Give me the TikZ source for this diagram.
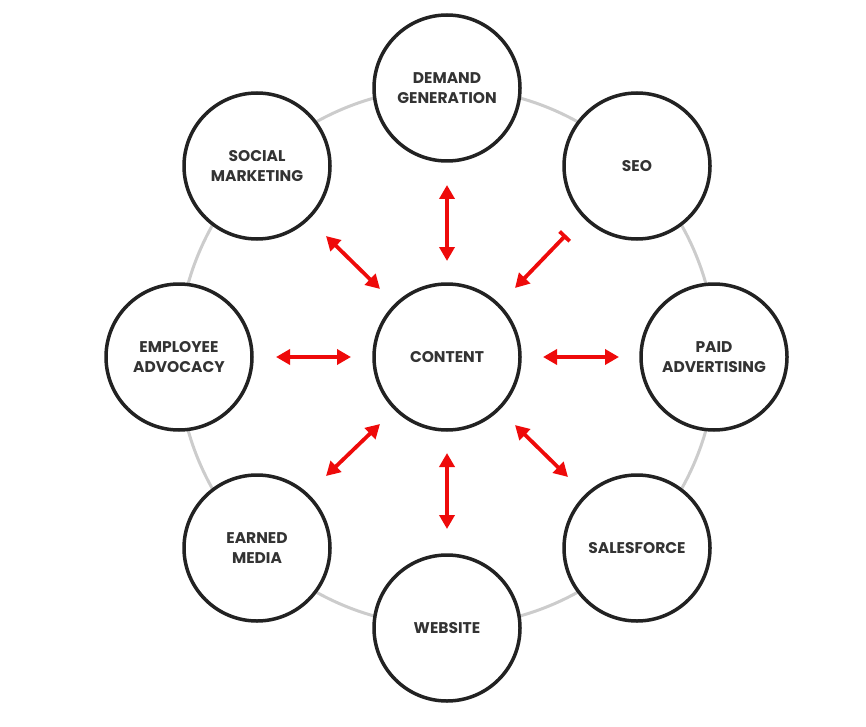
\documentclass[tikz,border=0pt]{standalone}
\usepackage{fontspec}
\setmainfont{Poppins}
\usetikzlibrary{arrows.meta}
\definecolor{ringgray}{HTML}{CCCCCC}
\definecolor{circdark}{HTML}{222222}
\definecolor{txtdark}{HTML}{333333}
\definecolor{arrred}{HTML}{EE0A0A}
\begin{document}
\begin{tikzpicture}[x=1pt,y=-1pt,
  bub/.style={circle,draw=circdark,line width=3.5pt,fill=white,minimum size=146pt,inner sep=0pt,
    align=center,font=\fontsize{15.5}{20.5}\selectfont\bfseries,text=txtdark},
  link/.style={arrred,line width=3.8pt,{Triangle[length=14pt,width=15pt]}-{Triangle[length=14pt,width=15pt]}},
  linkbar/.style={arrred,line width=3.8pt,{Bar[width=14pt]}-{Triangle[length=14pt,width=15pt]}}]
\useasboundingbox (0,0) rectangle (866,727);
\draw[ringgray,line width=3pt] (447,357) circle (269pt);
\node[bub] (c) at (447,357) {CONTENT};
\node[bub] (n) at (447,88) {DEMAND\\GENERATION};
\node[bub] (ne) at (637,166) {SEO};
\node[bub] (e) at (714,357) {PAID\\ADVERTISING};
\node[bub] (se) at (637,548) {SALESFORCE};
\node[bub] (s) at (447,628) {WEBSITE};
\node[bub] (sw) at (257,548) {EARNED\\MEDIA};
\node[bub] (w) at (179,357) {EMPLOYEE\\ADVOCACY};
\node[bub] (nw) at (257,166) {SOCIAL\\MARKETING};
\coordinate (an1) at (447,185); \coordinate (an2) at (447,261);
\coordinate (as1) at (447,453); \coordinate (as2) at (447,529);
\coordinate (aw1) at (276,357); \coordinate (aw2) at (351,357);
\coordinate (ae1) at (543,357); \coordinate (ae2) at (619,357);
\coordinate (anw1) at (326,236); \coordinate (anw2) at (380,289);
\coordinate (asw1) at (326,476); \coordinate (asw2) at (380,424);
\coordinate (ase1) at (515,425); \coordinate (ase2) at (568,477);
\coordinate (ane1) at (566,235); \coordinate (ane2) at (515,288);
\draw[link] (an1) -- (an2);
\draw[link] (as1) -- (as2);
\draw[link] (aw1) -- (aw2);
\draw[link] (ae1) -- (ae2);
\draw[link] (anw1) -- (anw2);
\draw[link] (asw1) -- (asw2);
\draw[link] (ase1) -- (ase2);
\draw[linkbar] (ane1) -- (ane2);
\end{tikzpicture}
\end{document}
